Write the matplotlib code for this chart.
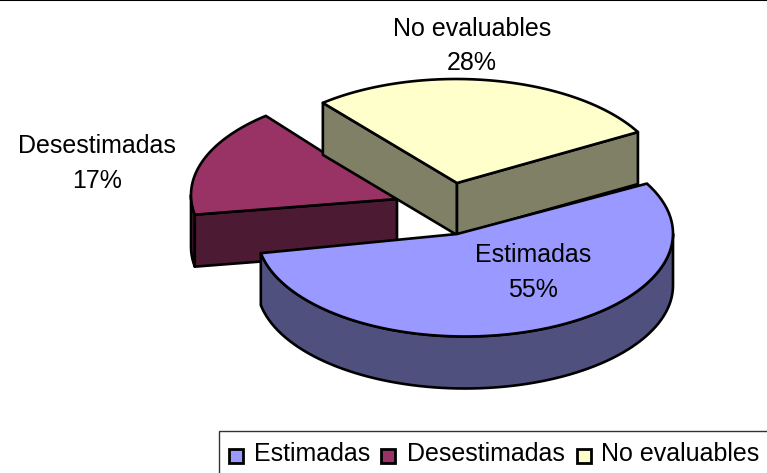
import matplotlib
matplotlib.use('Agg')
import matplotlib.pyplot as plt
from matplotlib.patches import Polygon, Rectangle
import numpy as np

plt.rcParams['font.family'] = ['Liberation Sans', 'DejaVu Sans']

categories = ['Estimadas', 'Desestimadas', 'No evaluables']
values = [55, 17, 28]

top_colors = ['#9999FF', '#993366', '#FFFFCC']
side_colors = ['#50507F', '#4D1A33', '#808066']

# Pie geometry in image pixels
A, B = 208, 103
DEPTH = 52
START = 29
centers = [(465, 233.5), (399, 195), (456, 182)]
apexes = [(457, 234), (397, 199), (457, 183)]
label_pos = [(533, 255), (97, 146), (472, 29)]
LINE_GAP = 34.5


def slice_angles():
    # clockwise from START, one (begin, end) pair per slice
    spans = 360 * np.array(values) / sum(values)
    ends = START - np.cumsum(spans)
    begins = ends + spans
    return list(zip(begins, ends))


def arc(center, begin, end, n=80):
    t = np.radians(np.linspace(begin, end, n))
    return np.column_stack([center[0] + A * np.cos(t), center[1] - B * np.sin(t)])


def wall(ax, pts, color):
    # extrude a path straight down by the pie depth
    lower = pts[::-1] + [0, DEPTH]
    ax.add_patch(Polygon(np.vstack([pts, lower]), closed=True, facecolor=color,
                         edgecolor='black', linewidth=1.9, joinstyle='round'))


fig = plt.figure(figsize=(7.67, 4.73), dpi=100)
ax = fig.add_axes([0, 0, 1, 1])
ax.set_xlim(0, 767)
ax.set_ylim(473, 0)
ax.axis('off')

# rule along the top of the image
ax.plot([0, 767], [0.5, 0.5], color='black', linewidth=1.5)

angles = slice_angles()

# back slices first, the big one goes on top of them
for i in [1, 2, 0]:
    begin, end = angles[i]
    c = np.array(centers[i], dtype=float)
    apex = np.array(apexes[i], dtype=float)
    pts = arc(c, begin, end)

    if i == 0:
        # outer wall, only the part facing the viewer
        wall(ax, arc(c, 0, end), side_colors[i])
    if i == 1:
        wall(ax, arc(c, begin % 360, 180, 6), side_colors[i])
        wall(ax, np.vstack([pts[0], apex]), side_colors[i])
    if i == 2:
        wall(ax, np.vstack([apex, pts[0]]), side_colors[i])
        wall(ax, np.vstack([apex, pts[-1]]), side_colors[i])

    ax.add_patch(Polygon(np.vstack([apex, pts]), closed=True, facecolor=top_colors[i],
                         edgecolor='black', linewidth=1.9, joinstyle='round'))

for i, name in enumerate(categories):
    x, y = label_pos[i]
    ax.text(x, y, name, ha='center', va='center', fontsize=18, color='black')
    ax.text(x, y + LINE_GAP, f'{values[i]}%', ha='center', va='center', fontsize=18, color='black')

# legend box runs off the right and bottom of the image
ax.add_patch(Rectangle((219, 431), 570, 60, facecolor='white', edgecolor='#333333', linewidth=1.0))
key_x = [229, 381, 577]
text_x = [254, 407, 601]
for i, name in enumerate(categories):
    ax.add_patch(Rectangle((key_x[i], 449), 14, 14, facecolor=top_colors[i],
                           edgecolor='black', linewidth=2.0))
    ax.text(text_x[i], 454, name, ha='left', va='center', fontsize=18, color='black')

fig.savefig('out.png', dpi=100)
